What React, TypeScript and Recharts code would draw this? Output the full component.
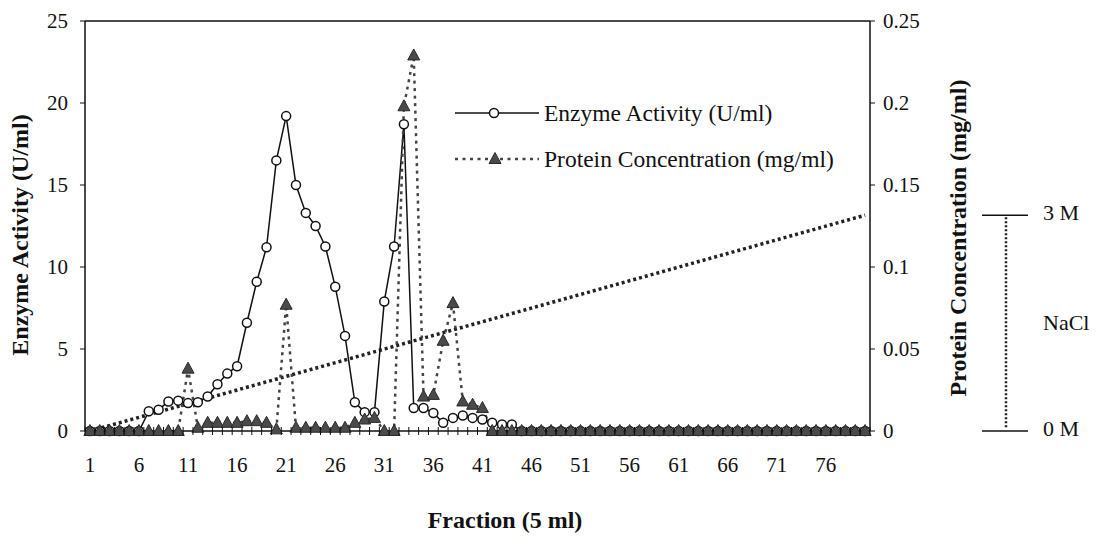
import React from "react";
import {
  ComposedChart,
  Line,
  XAxis,
  YAxis,
  Legend,
  ReferenceLine,
} from "recharts";

// fraction numbers (5 ml each)
const fractions = Array.from({ length: 80 }, (_, i) => i + 1);

// Enzyme Activity (U/ml), fractions 1..80
const enzymeActivity = [
  0, 0, 0, 0, 0, 0, 1.2, 1.3, 1.8, 1.85,
  1.7, 1.75, 2.1, 2.85, 3.5, 3.95, 6.6, 9.1, 11.2, 16.5,
  19.2, 15.0, 13.3, 12.5, 11.25, 8.8, 5.8, 1.75, 1.15, 1.15,
  7.9, 11.25, 18.7, 1.4, 1.4, 1.1, 0.5, 0.8, 0.95, 0.8,
  0.7, 0.5, 0.4, 0.4, 0, 0, 0, 0, 0, 0,
  0, 0, 0, 0, 0, 0, 0, 0, 0, 0,
  0, 0, 0, 0, 0, 0, 0, 0, 0, 0,
  0, 0, 0, 0, 0, 0, 0, 0, 0, 0,
];

// Protein Concentration (mg/ml), fractions 1..80
const proteinConc = [
  0, 0, 0, 0, 0, 0, 0, 0, 0, 0,
  0.038, 0.002, 0.005, 0.005, 0.005, 0.005, 0.006, 0.006, 0.005, 0.001,
  0.077, 0.002, 0.002, 0.002, 0.002, 0.002, 0.002, 0.005, 0.007, 0.008,
  0, 0, 0.198, 0.229, 0.021, 0.022, 0.055, 0.078, 0.018, 0.016,
  0.014, 0, 0, 0, 0, 0, 0, 0, 0, 0,
  0, 0, 0, 0, 0, 0, 0, 0, 0, 0,
  0, 0, 0, 0, 0, 0, 0, 0, 0, 0,
  0, 0, 0, 0, 0, 0, 0, 0, 0, 0,
];

// NaCl gradient (M): linear from first to last fraction
const naclStart = 0;
const naclEnd = 3;
const naclMax = 5.7; // axis top, so 3 M sits where the scale bar shows it

const xLabels = [1, 6, 11, 16, 21, 26, 31, 36, 41, 46, 51, 56, 61, 66, 71, 76];
const enzymeTicks = [0, 5, 10, 15, 20, 25];
const proteinTicks = [0, 0.05, 0.1, 0.15, 0.2, 0.25];

const data = fractions.map((f, i) => ({
  fraction: f,
  enzyme: enzymeActivity[i],
  protein: proteinConc[i],
  nacl: i === 0 ? naclStart : i === fractions.length - 1 ? naclEnd : null,
}));

const W = 1106;
const H = 538;
const margin = { top: 21, right: 136, bottom: 47, left: 25 };
const LEFT_W = 60;
const RIGHT_W = 100;
const X_H = 60;
const plotLeft = margin.left + LEFT_W;
const plotRight = W - margin.right - RIGHT_W;
const plotTop = margin.top;
const plotBottom = H - margin.bottom - X_H;
const halfBand = (plotRight - plotLeft) / fractions.length / 2;

const FONT = "'Liberation Serif', 'Times New Roman', serif";
const boundaries = [...fractions.map((f) => f - 0.5), fractions.length + 0.5];

function FractionTick(props: any) {
  const { x, y, payload } = props;
  const f = payload.value + 0.5;
  return (
    <g>
      <line x1={x} x2={x} y1={y - 4} y2={y + 4} stroke="#111" strokeWidth={1} />
      {xLabels.includes(f) && (
        <text x={x + halfBand} y={y + 41} textAnchor="middle" fontSize={21} fontFamily={FONT} fill="#111">
          {f}
        </text>
      )}
    </g>
  );
}

function Triangle(props: any) {
  const { cx, cy } = props;
  if (cx == null || cy == null) return <g key={props.key} />;
  return (
    <polygon
      key={props.key}
      points={`${cx},${cy - 6.5} ${cx - 6},${cy + 4.5} ${cx + 6},${cy + 4.5}`}
      fill="#4a4a4a"
      stroke="#2a2a2a"
      strokeWidth={1}
    />
  );
}

function ChartLegend() {
  const row: React.CSSProperties = { display: "flex", alignItems: "center", height: 46 };
  const txt: React.CSSProperties = { fontFamily: FONT, fontSize: 23.5, color: "#111", marginLeft: 5, whiteSpace: "nowrap" };
  return (
    <div>
      <div style={row}>
        <svg width={84} height={20}>
          <line x1={0} x2={84} y1={10} y2={10} stroke="#111" strokeWidth={1.5} />
          <circle cx={39} cy={10} r={4.5} fill="#fff" stroke="#111" strokeWidth={1.5} />
        </svg>
        <span style={txt}>Enzyme Activity (U/ml)</span>
      </div>
      <div style={row}>
        <svg width={84} height={20}>
          <line x1={0} x2={84} y1={10} y2={10} stroke="#444" strokeWidth={2.5} strokeDasharray="3 4.5" />
          <polygon points="40,3.5 34,14.5 46,14.5" fill="#4a4a4a" stroke="#2a2a2a" />
        </svg>
        <span style={txt}>Protein Concentration (mg/ml)</span>
      </div>
    </div>
  );
}

function NaclScale() {
  const yOf = (m: number) => plotBottom - (m / naclMax) * (plotBottom - plotTop);
  const yTop = yOf(naclEnd);
  const yBot = yOf(naclStart);
  return (
    <svg width={W} height={H} style={{ position: "absolute", left: 0, top: 0, pointerEvents: "none" }}>
      <line x1={982} x2={1028} y1={yTop} y2={yTop} stroke="#111" strokeWidth={1.5} />
      <line x1={982} x2={1028} y1={yBot} y2={yBot} stroke="#111" strokeWidth={1.5} />
      <line x1={1006} x2={1006} y1={yTop + 2} y2={yBot - 2} stroke="#222" strokeWidth={2.5} strokeDasharray="2 2" />
      <g fontFamily={FONT} fontSize={22} fill="#111">
        <text x={1043} y={yTop} dominantBaseline="middle">3 M</text>
        <text x={1043} y={(yTop + yBot) / 2 + 2} dominantBaseline="middle">NaCl</text>
        <text x={1043} y={yBot} dominantBaseline="middle">0 M</text>
      </g>
    </svg>
  );
}

const tickStyle = { fontSize: 21, fontFamily: FONT, fill: "#111" };
const titleStyle = { fontSize: 24, fontFamily: FONT, fontWeight: "bold" as const, fill: "#111" };

export default function App() {
  return (
    <div style={{ position: "absolute", left: 0, top: 0, width: W, height: H, background: "#fff" }}>
      <ComposedChart width={W} height={H} data={data} margin={margin}>
        <XAxis
          dataKey="fraction"
          type="number"
          domain={[0.5, fractions.length + 0.5]}
          ticks={boundaries}
          interval={0}
          height={X_H}
          tickLine={false}
          tickSize={0}
          tickMargin={0}
          axisLine={{ stroke: "#111", strokeWidth: 1.5 }}
          tick={<FractionTick />}
          label={{
            content: () => (
              <text x={505} y={522} textAnchor="middle" dominantBaseline="middle" {...titleStyle}>
                Fraction (5 ml)
              </text>
            ),
          }}
        />
        <YAxis
          yAxisId="enzyme"
          domain={[0, 25]}
          ticks={enzymeTicks}
          width={LEFT_W}
          tickSize={5}
          tickMargin={12}
          tick={tickStyle}
          tickLine={{ stroke: "#111" }}
          axisLine={{ stroke: "#111", strokeWidth: 1.5 }}
          label={{
            content: () => (
              <text
                x={22}
                y={235}
                textAnchor="middle"
                dominantBaseline="middle"
                transform="rotate(-90 22 235)"
                {...titleStyle}
              >
                Enzyme Activity (U/ml)
              </text>
            ),
          }}
        />
        <YAxis
          yAxisId="protein"
          orientation="right"
          domain={[0, 0.25]}
          ticks={proteinTicks}
          width={RIGHT_W}
          tickSize={5}
          tickMargin={8}
          tick={tickStyle}
          tickLine={{ stroke: "#111" }}
          axisLine={{ stroke: "#111", strokeWidth: 1.5 }}
          label={{
            content: () => (
              <text
                x={960}
                y={238}
                textAnchor="middle"
                dominantBaseline="middle"
                transform="rotate(-90 960 238)"
                {...titleStyle}
              >
                Protein Concentration (mg/ml)
              </text>
            ),
          }}
        />
        <YAxis yAxisId="nacl" hide domain={[0, naclMax]} />
        <ReferenceLine yAxisId="enzyme" y={25} stroke="#111" strokeWidth={1.5} />
        <Legend
          layout="horizontal"
          verticalAlign="middle"
          align="center"
          content={() => <ChartLegend />}
          wrapperStyle={{ left: 455, top: 90, width: 440 }}
        />
        <Line
          yAxisId="nacl"
          dataKey="nacl"
          connectNulls
          stroke="#222"
          strokeWidth={3.5}
          strokeDasharray="3 3"
          dot={false}
          activeDot={false}
          legendType="none"
          isAnimationActive={false}
        />
        <Line
          yAxisId="enzyme"
          dataKey="enzyme"
          stroke="#111"
          strokeWidth={1.5}
          dot={{ r: 4.5, fill: "#fff", stroke: "#111", strokeWidth: 1.5 }}
          activeDot={false}
          isAnimationActive={false}
        />
        <Line
          yAxisId="protein"
          dataKey="protein"
          stroke="#444"
          strokeWidth={2.5}
          strokeDasharray="3 4.5"
          dot={(p: any) => <Triangle {...p} key={`tri-${p.index}`} />}
          activeDot={false}
          isAnimationActive={false}
        />
      </ComposedChart>
      <NaclScale />
    </div>
  );
}
